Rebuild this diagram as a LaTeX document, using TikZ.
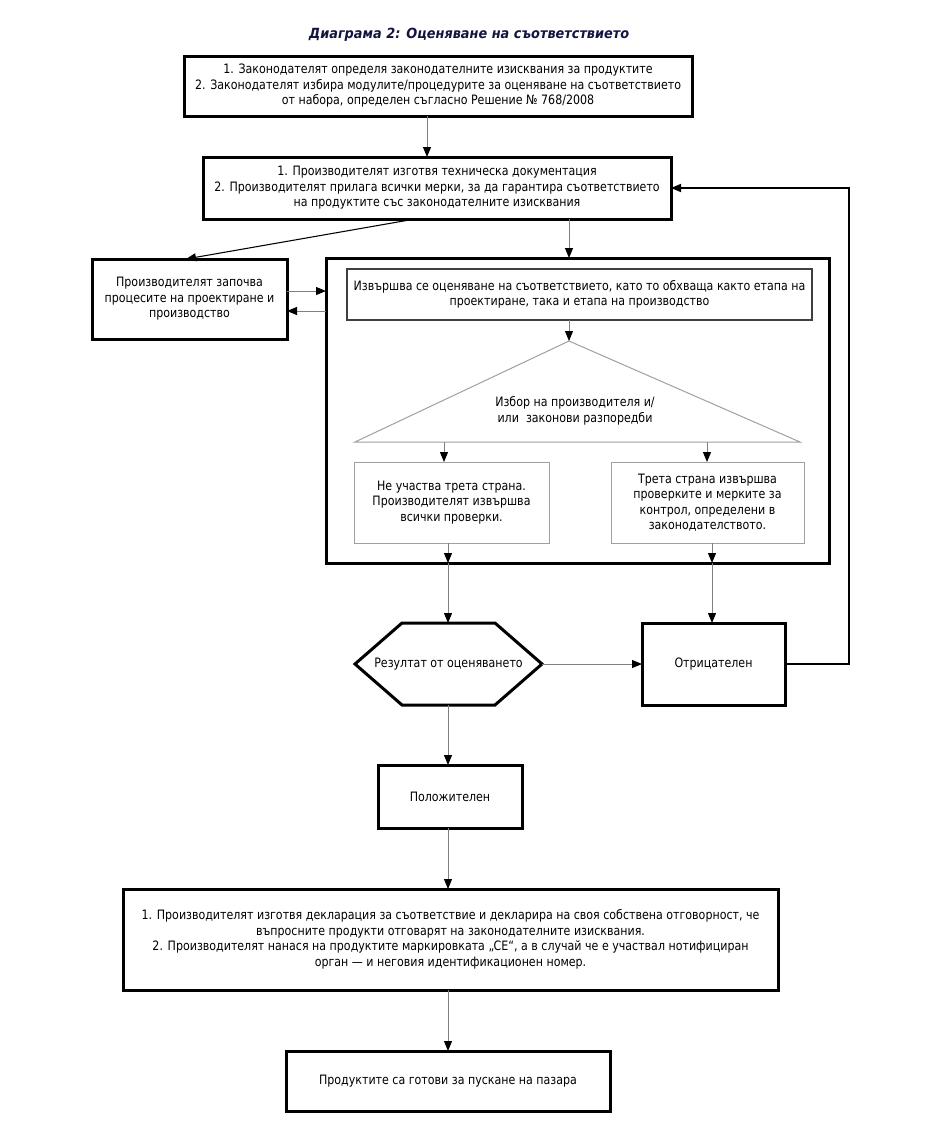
\documentclass[tikz,border=0pt]{standalone}
\usepackage{fontspec}
\setmainfont{DejaVu Sans}[FakeStretch=0.855]
\newfontfamily\titlefont{DejaVu Sans}[FakeStretch=0.92]
\usetikzlibrary{arrows.meta}
\definecolor{linegray}{HTML}{808080}
\definecolor{boxgray}{HTML}{A0A0A0}
\definecolor{titlenavy}{HTML}{141440}
\tikzset{
  txt/.style={font=\fontsize{9.7}{11.6}\selectfont, align=center, inner sep=0pt, outer sep=0pt},
  thickbox/.style={txt, draw=black, line width=2.25pt, fill=white},
  innerbox/.style={txt, draw=black!75, line width=0.9pt},
  subbox/.style={txt, draw=boxgray, line width=0.75pt},
  arr/.style={draw=linegray, line width=0.75pt, -{Triangle[length=7.5pt,width=6pt,color=black,fill=black]}},
  darkarr/.style={draw=black, line width=0.8pt, -{Triangle[length=7.5pt,width=6pt,color=black,fill=black]}},
  retarr/.style={draw=black, line width=1.2pt, -{Triangle[length=7.5pt,width=6pt,color=black,fill=black]}},
}
\begin{document}
\begin{tikzpicture}[x=0.75pt,y=-0.75pt]
\useasboundingbox (0,0) rectangle (939,1129);

% title
\node[font=\titlefont\bfseries\itshape\fontsize{10.5}{12}\selectfont, text=titlenavy] (title) at (469,35) {Диаграма 2: Оценяване на съответствието};

% helper coordinates
\coordinate (x427) at (427,0);
\coordinate (x415) at (415,0);
\coordinate (x186) at (186,0);
\coordinate (x569) at (569,0);
\coordinate (x444) at (444,0);
\coordinate (x707) at (707,0);
\coordinate (x448) at (448,0);
\coordinate (x712) at (712,0);
\coordinate (y291) at (0,291);
\coordinate (y311) at (0,311);
\coordinate (base) at (0,442);

% boxes
\node[thickbox, minimum width=381pt, minimum height=45pt] (b1) at (438,86)
  {1. Законодателят определя законодателните изисквания за продуктите\\
   2. Законодателят избира модулите/процедурите за оценяване на съответствието\\
   от набора, определен съгласно Решение № 768/2008};

\node[thickbox, minimum width=351pt, minimum height=46.5pt] (b2) at (437,188)
  {1. Производителят изготвя техническа документация\\
   2. Производителят прилага всички мерки, за да гарантира съответствието\\
   на продуктите със законодателните изисквания};

\node[thickbox, minimum width=146.25pt, minimum height=60pt] (b3) at (189.5,299)
  {Производителят започва\\ процесите на проектиране и\\ производство};

\node[draw=black, line width=2.25pt, minimum width=377.25pt, minimum height=228.75pt, inner sep=0pt, outer sep=0pt] (big) at (577.5,410.5) {};

\node[innerbox, minimum width=348.75pt, minimum height=38.25pt] (inner) at (579.5,294.5)
  {Извършва се оценяване на съответствието, като то обхваща както етапа на\\
   проектиране, така и етапа на производство};

% triangle
\coordinate (apex) at (569,341);
\coordinate (bl) at (355,442);
\coordinate (br) at (800,442);
\draw[draw=boxgray, line width=0.75pt] (apex) -- (bl) -- (br) -- cycle;
\node[txt] (tri) at (575,411) {Избор на производителя и/\\ или\ \ законови разпоредби};

\node[subbox, minimum width=146.25pt, minimum height=60.75pt] (ls) at (451.5,502.5)
  {Не участва трета страна.\\ Производителят извършва\\ всички проверки.};
\node[subbox, minimum width=144.75pt, minimum height=60.75pt] (rs) at (707.5,502.5)
  {Трета страна извършва\\ проверките и мерките за\\ контрол, определени в\\ законодателството.};

% hexagon
\coordinate (hexL) at (355,664);
\coordinate (hexTL) at (402,623);
\coordinate (hexTR) at (495,623);
\coordinate (hexR) at (542,664);
\coordinate (hexBR) at (495,705);
\coordinate (hexBL) at (402,705);
\coordinate (hexT) at (448,623);
\coordinate (hexB) at (448,705);
\draw[line width=2.25pt, line join=miter] (hexL) -- (hexTL) -- (hexTR) -- (hexR) -- (hexBR) -- (hexBL) -- cycle;
\node[txt] (hex) at (448.5,664) {Резултат от оценяването};

\node[thickbox, minimum width=107.25pt, minimum height=61.5pt] (neg) at (713.5,664) {Отрицателен};
\node[thickbox, minimum width=108pt, minimum height=47.25pt] (pos) at (450,796.5) {Положителен};

\node[thickbox, minimum width=491.25pt, minimum height=75.75pt] (b5) at (450.5,939.5)
  {1. Производителят изготвя декларация за съответствие и декларира на своя собствена отговорност, че\\
   въпросните продукти отговарят на законодателните изисквания.\\
   2. Производителят нанася на продуктите маркировката „CE“, а в случай че е участвал нотифициран\\
   орган — и неговия идентификационен номер.};

\node[thickbox, minimum width=243pt, minimum height=45pt] (b6) at (448,1081)
  {Продуктите са готови за пускане на пазара};

% connectors
\draw[arr] (b1.south -| x427) -- (b2.north -| x427);
\draw[darkarr] (b2.south -| x415) -- (b3.north -| x186);
\draw[arr] (b2.south -| x569) -- (big.north -| x569);
\draw[arr] (b3.east |- y291) -- (big.west |- y291);
\draw[arr] (big.west |- y311) -- (b3.east |- y311);
\draw[arr] (inner.south -| x569) -- (apex);
\draw[arr] (base -| x444) -- (ls.north -| x444);
\draw[arr] (base -| x707) -- (rs.north -| x707);
\draw[arr] (ls.south -| x448) -- (big.south -| x448);
\draw[arr] (rs.south -| x712) -- (big.south -| x712);
\draw[arr] (big.south -| x448) -- (hexT);
\draw[arr] (big.south -| x712) -- (neg.north -| x712);
\draw[arr] (hexR) -- (neg.west);
\draw[retarr] (neg.east) -- ++(64,0) |- (b2.east);
\draw[arr] (hexB) -- (pos.north -| hexB);
\draw[arr] (pos.south -| x448) -- (b5.north -| x448);
\draw[arr] (b5.south -| x448) -- (b6.north -| x448);
\end{tikzpicture}
\end{document}
